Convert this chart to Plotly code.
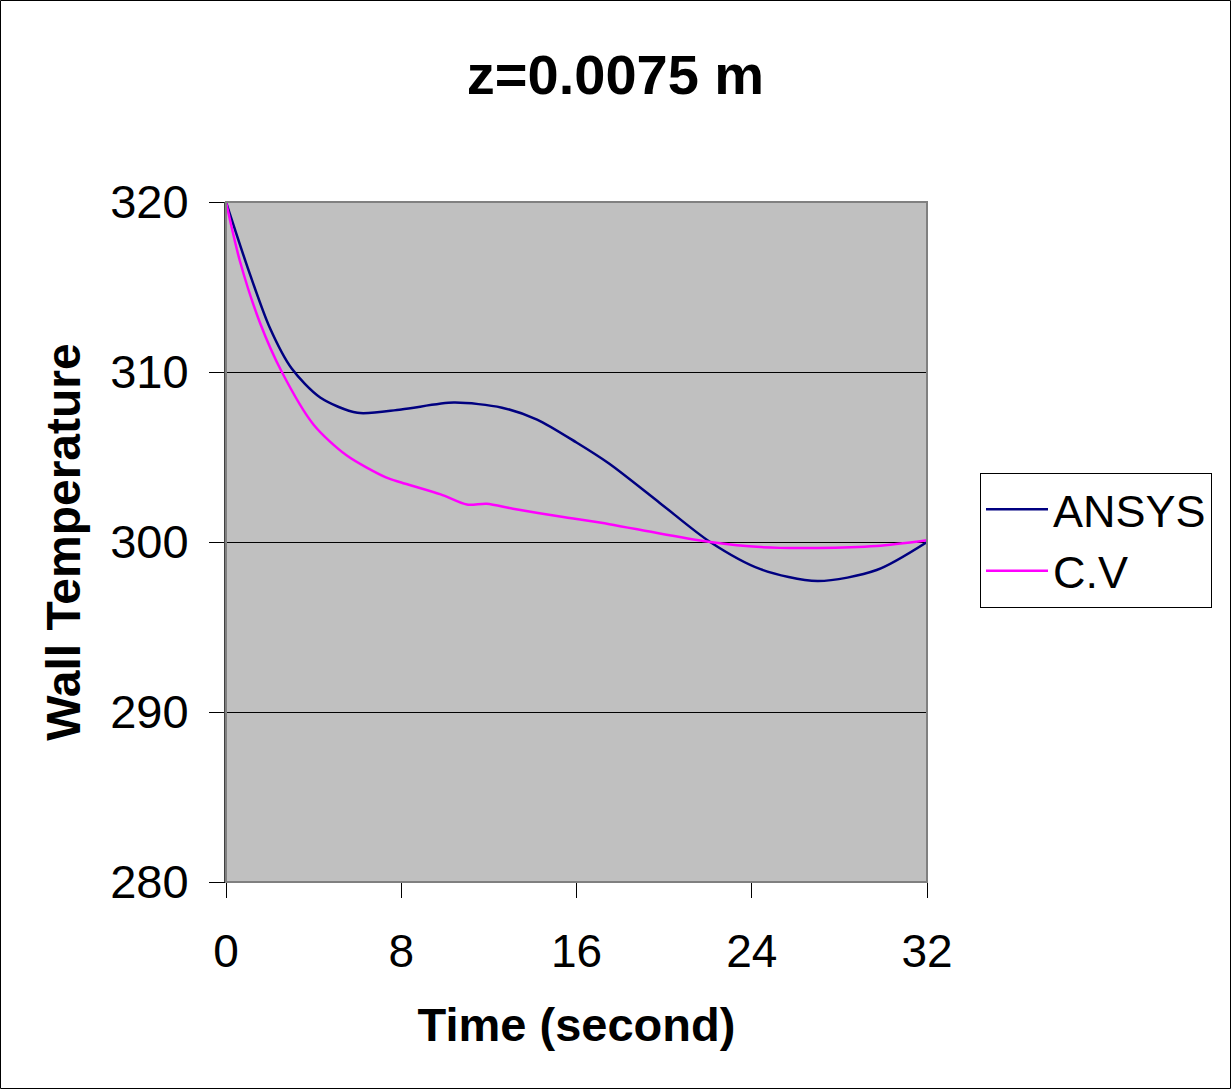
import plotly.graph_objects as go

# Data
ansys_time = [0, 1, 2, 3, 4.3, 6, 8, 10.4, 12.6, 14.2, 16, 17.5, 19.8, 22.1, 24.4, 27, 29.7, 32]
ansys_temp = [320, 316.1, 312.6, 310.2, 308.5, 307.6, 307.8, 308.2, 307.9, 307.2, 305.85, 304.6, 302.3, 300, 298.4, 297.7, 298.35, 300]

cv_time = [0, 0.64, 1.55, 2.55, 4.0, 5.5, 7.3, 8, 9.8, 11.0, 11.9, 13.1, 15.25, 17.5, 19.8, 22.1, 24.4, 27, 29.7, 32]
cv_temp = [320, 316.5, 312.9, 310, 306.9, 305.1, 303.8, 303.5, 302.8, 302.2, 302.25, 301.96, 301.5, 301.05, 300.5, 300, 299.7, 299.65, 299.76, 300.1]

x_ticks = [0, 8, 16, 24, 32]
y_ticks = [280, 290, 300, 310, 320]

FONT = "Liberation Sans, Arial, sans-serif"

fig = go.Figure()
fig.add_trace(go.Scatter(x=ansys_time, y=ansys_temp, mode="lines", name="ANSYS",
                         line=dict(color="#000080", width=2.5, shape="spline", smoothing=0.8)))
fig.add_trace(go.Scatter(x=cv_time, y=cv_temp, mode="lines", name="C.V",
                         line=dict(color="#FF00FF", width=2.5, shape="spline", smoothing=0.8)))

W, H = 1231, 1089
L, R, T, B = 226, 927, 202, 882
pw, ph = R - L, B - T

def px(xp):
    return (xp - L) / pw

def py(yp):
    return (B - yp) / ph

fig.update_layout(
    width=W, height=H,
    margin=dict(l=L, r=W - R, t=T, b=H - B, pad=0),
    paper_bgcolor="white",
    plot_bgcolor="#C0C0C0",
    font=dict(family=FONT, color="black", size=44),
    title=dict(text="<b>z=0.0075 m</b>", x=0.5, xanchor="center", y=1 - 74 / H, yanchor="middle",
               font=dict(size=56, family=FONT, color="black")),
    showlegend=True,
    legend=dict(x=px(980), xanchor="left", y=py(540), yanchor="middle",
                bgcolor="white", bordercolor="black", borderwidth=1,
                font=dict(size=45, family=FONT, color="black"),
                itemwidth=62, tracegroupgap=0),
    xaxis=dict(range=[0, 32], tickvals=x_ticks, ticktext=[str(v) for v in x_ticks],
               showgrid=False, zeroline=False,
               showline=True, linecolor="black", linewidth=1,
               ticks="outside", ticklen=15, tickcolor="black", tickwidth=1,
               ticklabelstandoff=14,
               tickfont=dict(size=46, family=FONT),
               title=dict(text="<b>Time (second)</b>", standoff=31, font=dict(size=47, family=FONT)),
               automargin=False),
    yaxis=dict(range=[280, 320], tickvals=y_ticks, ticktext=[str(v) for v in y_ticks],
               showgrid=True, gridcolor="black", gridwidth=1, zeroline=False,
               showline=True, linecolor="#404040", linewidth=2,
               ticks="outside", ticklen=15, tickcolor="black", tickwidth=1,
               ticklabelstandoff=11,
               tickfont=dict(size=47, family=FONT),
               title=dict(text="<b>Wall Temperature</b>", standoff=14, font=dict(size=48, family=FONT)),
               automargin=False),
    shapes=[
        # plot area frame (top/right grey)
        dict(type="rect", xref="paper", yref="paper", x0=0, x1=1, y0=0, y1=1,
             line=dict(color="#808080", width=2), layer="above"),
        # outer chart border
        dict(type="rect", xref="paper", yref="paper",
             x0=px(0.5), x1=px(W - 0.5), y0=py(H - 0.5), y1=py(0.5),
             line=dict(color="black", width=1), layer="below"),
    ],
)

fig.write_html("out.html")
